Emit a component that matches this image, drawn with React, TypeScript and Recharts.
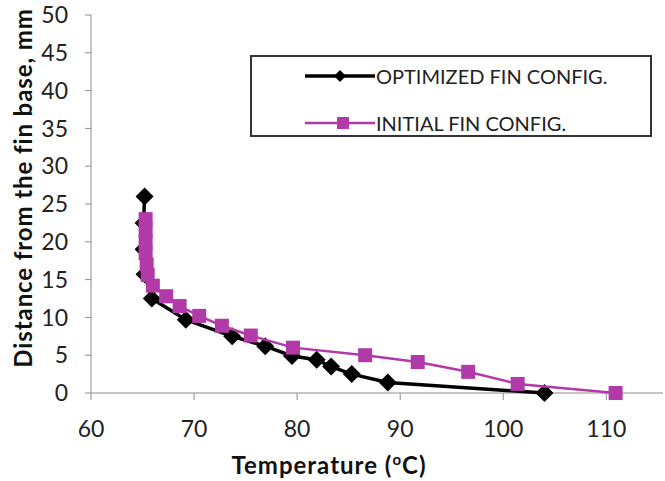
import React from "react";
import {
  ScatterChart,
  Scatter,
  XAxis,
  YAxis,
} from "recharts";

// optimized fin: temperature (°C) vs distance from fin base (mm)
const optimizedTemp = [65.2, 65.1, 65.1, 65.2, 65.9, 69.2, 73.7, 76.9, 79.5, 81.9, 83.3, 85.3, 88.8, 104.0];
const optimizedDist = [26.0, 22.5, 19.0, 15.7, 12.5, 9.7, 7.5, 6.2, 4.9, 4.4, 3.5, 2.5, 1.4, 0.0];

const initialTemp = [65.3, 65.3, 65.3, 65.3, 65.4, 65.5, 66.0, 67.3, 68.6, 70.5, 72.7, 75.5, 79.6, 86.6, 91.7, 96.6, 101.4, 110.9];
const initialDist = [23.0, 21.5, 20.0, 18.5, 17.0, 15.6, 14.2, 12.8, 11.5, 10.2, 8.9, 7.6, 6.0, 5.0, 4.1, 2.8, 1.2, 0.0];

const xTicks = [60, 70, 80, 90, 100, 110];
const yTicks = [0, 5, 10, 15, 20, 25, 30, 35, 40, 45, 50];

const BLACK = "#000000";
const PINK = "#b23aa8";
const AXIS = "#8c8c8c";
const FONT = "Lato, 'Open Sans', sans-serif";

const optimized = optimizedTemp.map((x, i) => ({ x, y: optimizedDist[i] }));
const initial = initialTemp.map((x, i) => ({ x, y: initialDist[i] }));

function Diamond({ cx, cy, r = 9 }: { cx?: number; cy?: number; r?: number }) {
  if (cx == null || cy == null) return null;
  return (
    <polygon
      points={`${cx},${cy - r} ${cx + r},${cy} ${cx},${cy + r} ${cx - r},${cy}`}
      fill={BLACK}
    />
  );
}

function Square({ cx, cy, s = 7 }: { cx?: number; cy?: number; s?: number }) {
  if (cx == null || cy == null) return null;
  return <rect x={cx - s} y={cy - s} width={s * 2} height={s * 2} fill={PINK} />;
}

function LegendBox() {
  const rows = [
    { label: "OPTIMIZED FIN CONFIG.", color: BLACK, width: 3.5, marker: "diamond", top: 9 },
    { label: "INITIAL FIN CONFIG.", color: PINK, width: 2.5, marker: "square", top: 56 },
  ];
  return (
    <div
      style={{
        position: "absolute",
        left: 250,
        top: 55,
        width: 402,
        height: 82,
        border: "2px solid #333",
        background: "#fff",
        boxSizing: "border-box",
        fontFamily: FONT,
        fontSize: 20,
        color: "#222",
      }}
    >
      {rows.map((r) => (
        <div
          key={r.label}
          style={{ position: "absolute", left: 53, top: r.top, display: "flex", alignItems: "center", height: 20 }}
        >
          <svg width={70} height={20} style={{ display: "block" }}>
            <line x1={0} y1={10} x2={70} y2={10} stroke={r.color} strokeWidth={r.width} />
            {r.marker === "diamond" ? (
              <polygon points="35,4 41,10 35,16 29,10" fill={r.color} />
            ) : (
              <rect x={32} y={4} width={12} height={12} fill={r.color} />
            )}
          </svg>
          <span style={{ marginLeft: 1, whiteSpace: "nowrap" }}>{r.label}</span>
        </div>
      ))}
    </div>
  );
}

export default function App() {
  return (
    <div style={{ position: "absolute", left: 0, top: 0, width: 665, height: 481, background: "#fff" }}>
      <ScatterChart width={665} height={481} margin={{ top: 15, right: 2, bottom: 0, left: 0 }}>
        <XAxis
          type="number"
          dataKey="x"
          domain={[60, 115.5]}
          ticks={xTicks}
          allowDataOverflow
          height={88}
          tickSize={7}
          tickMargin={21}
          stroke={AXIS}
          tick={{ fill: "#222", fontSize: 23, fontFamily: FONT }}
          label={{
            content: () => (
              <text
                x={329}
                y={474}
                textAnchor="middle"
                fontFamily={FONT}
                fontSize={24}
                fontWeight={700}
                letterSpacing={1}
                fill="#111"
              >
                Temperature (
                <tspan fontSize={15} dy={-9}>o</tspan>
                <tspan dy={9}>C)</tspan>
              </text>
            ),
          }}
        />
        <YAxis
          type="number"
          dataKey="y"
          domain={[0, 50]}
          ticks={yTicks}
          width={91}
          tickSize={6}
          tickMargin={17}
          stroke={AXIS}
          tick={{ fill: "#222", fontSize: 23, fontFamily: FONT }}
          label={{
            content: () => (
              <text
                x={22}
                y={188}
                transform="rotate(-90 22 188)"
                textAnchor="middle"
                dominantBaseline="central"
                fontFamily={FONT}
                fontSize={24}
                fontWeight={700}
                letterSpacing={0.9}
                fill="#111"
              >
                Distance from the fin base, mm
              </text>
            ),
          }}
        />
        <Scatter
          name="OPTIMIZED FIN CONFIG."
          data={optimized}
          line={{ stroke: BLACK, strokeWidth: 3.5 }}
          lineType="joint"
          shape={(p: any) => <Diamond cx={p.cx} cy={p.cy} />}
          isAnimationActive={false}
        />
        <Scatter
          name="INITIAL FIN CONFIG."
          data={initial}
          line={{ stroke: PINK, strokeWidth: 2.5 }}
          lineType="joint"
          shape={(p: any) => <Square cx={p.cx} cy={p.cy} />}
          isAnimationActive={false}
        />
      </ScatterChart>
      <LegendBox />
    </div>
  );
}
